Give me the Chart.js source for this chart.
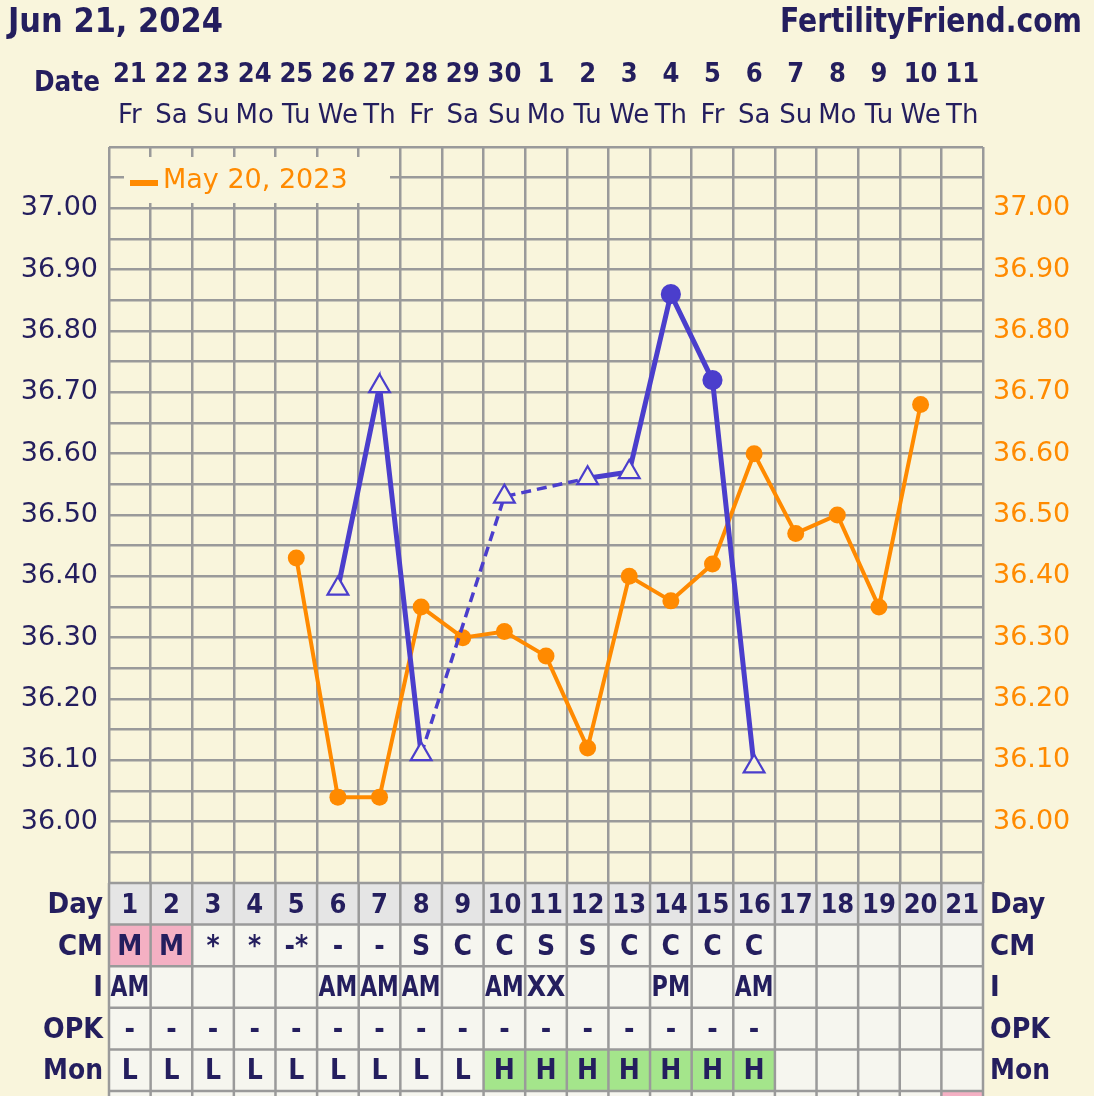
<!DOCTYPE html>
<html>
<head>
<meta charset="utf-8">
<script src="https://cdn.jsdelivr.net/npm/chart.js@4.4.0/dist/chart.umd.min.js"></script>
<style>
  html, body { margin: 0; padding: 0; background: #f9f5dc; }
  #wrap { width: 1094px; height: 1096px; position: relative; }
</style>
</head>
<body>
<div id="wrap"><canvas id="bbt-chart"></canvas></div>
<script>
// cycle start and comparison cycle
const chartDate = 'Jun 21, 2024';
const siteName = 'FertilityFriend.com';
const compareLabel = 'May 20, 2023';

const days = [1, 2, 3, 4, 5, 6, 7, 8, 9, 10, 11, 12, 13, 14, 15, 16, 17, 18, 19, 20, 21];
const dateNums = ['21', '22', '23', '24', '25', '26', '27', '28', '29', '30', '1', '2', '3', '4', '5', '6', '7', '8', '9', '10', '11'];
const weekDays = ['Fr', 'Sa', 'Su', 'Mo', 'Tu', 'We', 'Th', 'Fr', 'Sa', 'Su', 'Mo', 'Tu', 'We', 'Th', 'Fr', 'Sa', 'Su', 'Mo', 'Tu', 'We', 'Th'];

// current cycle temps (null = no reading)
const cycleTemps = [null, null, null, null, null, 36.38, 36.71, 36.11, null, 36.53, null, 36.56, 36.57, 36.86, 36.72, 36.09, null, null, null, null, null];
const cycleMarker = [null, null, null, null, null, 'open', 'open', 'open', null, 'open', null, 'open', 'open', 'filled', 'filled', 'open', null, null, null, null, null];
// overlay cycle
const compareTemps = [null, null, null, null, 36.43, 36.04, 36.04, 36.35, 36.30, 36.31, 36.27, 36.12, 36.40, 36.36, 36.42, 36.60, 36.47, 36.50, 36.35, 36.68, null];

const tempLabels = ['36.00', '36.10', '36.20', '36.30', '36.40', '36.50', '36.60', '36.70', '36.80', '36.90', '37.00'];
const tempMin = 35.90;
const tempMax = 37.10;
const tempStep = 0.05;

// table rows under the chart
const cmRow = ['M', 'M', '*', '*', '-*', '-', '-', 'S', 'C', 'C', 'S', 'S', 'C', 'C', 'C', 'C', '', '', '', '', ''];
const intercourseRow = ['AM', '', '', '', '', 'AM', 'AM', 'AM', '', 'AM', 'XX', '', '', 'PM', '', 'AM', '', '', '', '', ''];
const opkRow = ['-', '-', '-', '-', '-', '-', '-', '-', '-', '-', '-', '-', '-', '-', '-', '-', '', '', '', '', ''];
const monitorRow = ['L', 'L', 'L', 'L', 'L', 'L', 'L', 'L', 'L', 'H', 'H', 'H', 'H', 'H', 'H', 'H', '', '', '', '', ''];

const navy = '#241e5e';
const blue = '#4b3ecc';
const orange = '#ff8a00';
const bg = '#f9f5dc';
const gridGray = '#9a9a9a';
const cellBg = '#f6f6ef';
const dayBg = '#e5e5e5';
const pink = '#f4b0c3';
const green = '#a4e58b';
const sans = '"DejaVu Sans", Verdana, sans-serif';
const cond = '"DejaVu Sans Condensed", "DejaVu Sans", sans-serif';

const gridTicks = [];
for (let v = tempMin; v <= tempMax + 0.001; v += tempStep) gridTicks.push(Math.round(v * 100) / 100);
const colEdges = [];
for (let i = 0; i <= days.length; i++) colEdges.push(i + 0.5);

function tempLabel(v) {
  const hit = tempLabels.find(t => Math.abs(parseFloat(t) - v) < 0.001);
  return hit || '';
}

// a gap in readings is drawn dashed
const isGap = c => c.p0.skip || c.p1.skip;

const tablePlugin = {
  id: 'fertilityTable',
  afterDraw(chart) {
    const ctx = chart.ctx;
    const area = chart.chartArea;
    const xs = chart.scales.x;
    const colW = xs.getPixelForValue(1.5) - xs.getPixelForValue(0.5);
    ctx.save();

    // header
    ctx.fillStyle = navy;
    ctx.textBaseline = 'alphabetic';
    ctx.font = 'bold 34px ' + cond;
    ctx.textAlign = 'left';
    ctx.fillText(chartDate, 8, 32, 215);
    ctx.textAlign = 'right';
    ctx.fillText(siteName, 1082, 32, 302);
    ctx.font = 'bold 29px ' + cond;
    ctx.fillText('Date', 100, 91, 66);
    ctx.textAlign = 'center';
    days.forEach((d, i) => {
      const cx = xs.getPixelForValue(d);
      ctx.font = 'bold 27px ' + cond;
      ctx.fillText(dateNums[i], cx, 82, colW - 6);
      ctx.font = '26px ' + sans;
      ctx.fillText(weekDays[i], cx, 123, colW);
    });

    // legend box
    ctx.fillStyle = bg;
    ctx.fillRect(124, 157, 266, 46);
    ctx.fillStyle = orange;
    ctx.fillRect(130, 180, 28, 6);
    ctx.textAlign = 'left';
    ctx.font = '27px ' + sans;
    ctx.fillText(compareLabel, 163, 188);

    // table
    const rows = [
      { name: 'Day', cells: days.map(d => String(d)), fill: () => dayBg },
      { name: 'CM', cells: cmRow, fill: t => (t === 'M' ? pink : cellBg) },
      { name: 'I', cells: intercourseRow, fill: () => cellBg },
      { name: 'OPK', cells: opkRow, fill: () => cellBg },
      { name: 'Mon', cells: monitorRow, fill: t => (t === 'H' ? green : cellBg) },
      { name: '', cells: days.map(() => ''), fill: (t, i) => (i === days.length - 1 ? pink : cellBg) }
    ];
    const top = area.bottom;
    rows.forEach((row, r) => {
      const y0 = top + r * colW;
      row.cells.forEach((t, i) => {
        const x0 = xs.getPixelForValue(days[i] - 0.5);
        ctx.fillStyle = row.fill(t, i);
        ctx.fillRect(x0, y0, colW, colW);
        if (t) {
          ctx.fillStyle = navy;
          ctx.textAlign = 'center';
          ctx.font = (r === 0 ? 'bold 27px ' : 'bold 28px ') + cond;
          ctx.fillText(t, x0 + colW / 2, y0 + 30, colW - 3);
        }
      });
      if (row.name) {
        ctx.fillStyle = navy;
        ctx.font = 'bold 29px ' + cond;
        ctx.textAlign = 'right';
        ctx.fillText(row.name, 103, y0 + 30, 60);
        ctx.textAlign = 'left';
        ctx.fillText(row.name, 990, y0 + 30, 60);
      }
    });
    ctx.strokeStyle = gridGray;
    ctx.lineWidth = 2.5;
    ctx.beginPath();
    colEdges.forEach(v => {
      const x = xs.getPixelForValue(v);
      ctx.moveTo(x, top);
      ctx.lineTo(x, 1096);
    });
    for (let r = 0; r <= rows.length; r++) {
      ctx.moveTo(area.left, top + r * colW);
      ctx.lineTo(area.right, top + r * colW);
    }
    ctx.stroke();
    ctx.restore();
  }
};

const cyclePoints = days.map((d, i) => ({ x: d, y: cycleTemps[i] }));
const comparePoints = days.map((d, i) => ({ x: d, y: compareTemps[i] }));

const config = {
  type: 'line',
  data: {
    datasets: [
      {
        label: 'Current',
        data: cyclePoints,
        yAxisID: 'y',
        borderColor: blue,
        borderWidth: 5,
        tension: 0,
        spanGaps: true,
        segment: {
          borderDash: c => (isGap(c) ? [10, 6] : undefined),
          borderWidth: c => (isGap(c) ? 3.5 : 5)
        },
        pointStyle: cycleMarker.map(m => (m === 'filled' ? 'circle' : 'triangle')),
        pointRadius: cycleMarker.map(m => (m === 'filled' ? 9 : 12)),
        pointBackgroundColor: cycleMarker.map(m => (m === 'filled' ? blue : bg)),
        pointBorderColor: blue,
        pointBorderWidth: 2.2
      },
      {
        label: compareLabel,
        data: comparePoints,
        yAxisID: 'y2',
        borderColor: orange,
        borderWidth: 4,
        tension: 0,
        pointStyle: 'circle',
        pointRadius: 8.5,
        pointBackgroundColor: orange,
        pointBorderWidth: 0
      }
    ]
  },
  options: {
    responsive: true,
    maintainAspectRatio: false,
    animation: false,
    layout: { padding: { top: 147, bottom: 213, left: 0, right: 0 } },
    plugins: { legend: { display: false }, tooltip: { enabled: false } },
    scales: {
      x: {
        type: 'linear',
        min: 0.5,
        max: 21.5,
        afterBuildTicks: s => { s.ticks = colEdges.map(v => ({ value: v })); },
        afterFit: s => { s.height = 0; },
        ticks: { display: false },
        grid: { color: gridGray, lineWidth: 2.5, drawTicks: false },
        border: { display: false }
      },
      y: {
        position: 'left',
        min: tempMin,
        max: tempMax,
        afterBuildTicks: s => { s.ticks = gridTicks.map(v => ({ value: v })); },
        afterFit: s => { s.width = 109; },
        ticks: {
          autoSkip: false,
          padding: 11,
          color: navy,
          font: { family: sans, size: 27 },
          callback: v => tempLabel(v)
        },
        grid: { color: gridGray, lineWidth: 2.5, drawTicks: false },
        border: { display: false }
      },
      y2: {
        position: 'right',
        min: tempMin,
        max: tempMax,
        afterBuildTicks: s => { s.ticks = gridTicks.map(v => ({ value: v })); },
        afterFit: s => { s.width = 111; },
        ticks: {
          autoSkip: false,
          padding: 10,
          color: orange,
          font: { family: sans, size: 27 },
          callback: v => tempLabel(v)
        },
        grid: { drawOnChartArea: false, drawTicks: false },
        border: { display: false }
      }
    }
  },
  plugins: [tablePlugin]
};

const bbtChart = new Chart(document.getElementById('bbt-chart'), config);
</script>
</body>
</html>
